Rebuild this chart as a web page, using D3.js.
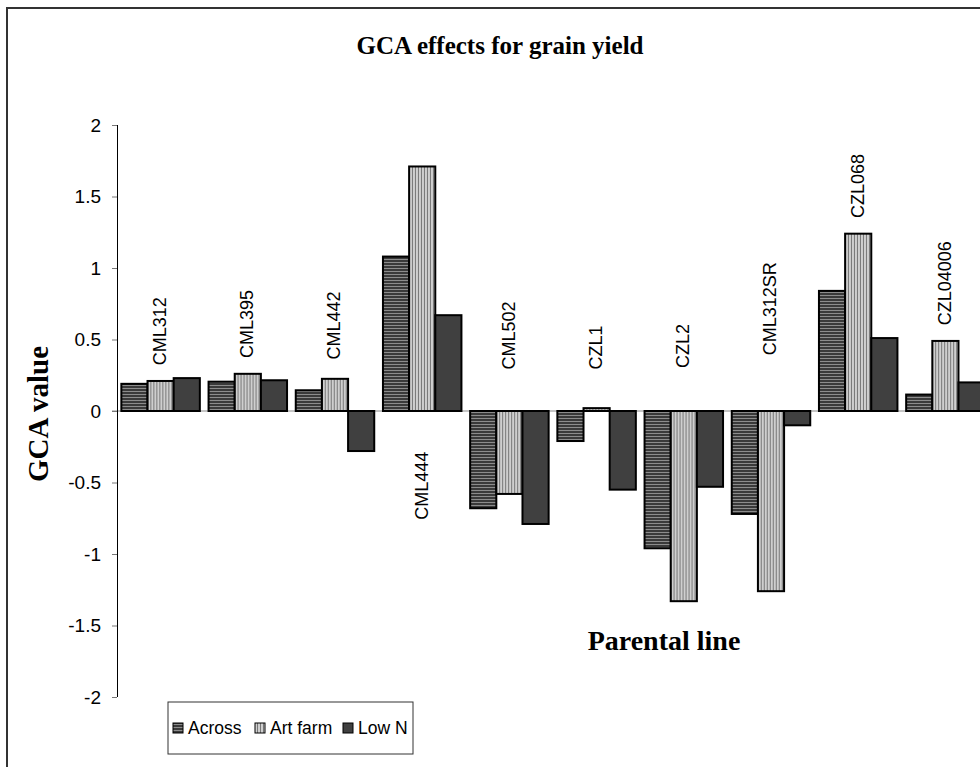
<!DOCTYPE html>
<html>
<head>
<meta charset="utf-8">
<script src="https://cdn.jsdelivr.net/npm/d3@7"></script>
<style>
  body { margin: 0; background: #fff; }
  svg { display: block; }
</style>
</head>
<body>
<div id="chart"></div>
<script>
// GCA effects for grain yield - grouped bars with hatch fills

const lines = ['CML312', 'CML395', 'CML442', 'CML444', 'CML502', 'CZL1', 'CZL2', 'CML312SR', 'CZL068', 'CZL04006'];
const seriesNames = ['Across', 'Art farm', 'Low N'];
const across = [0.19, 0.205, 0.145, 1.08, -0.68, -0.21, -0.96, -0.72, 0.84, 0.115];
const artFarm = [0.21, 0.26, 0.225, 1.71, -0.58, 0.02, -1.33, -1.26, 1.24, 0.49];
const lowN = [0.23, 0.215, -0.28, 0.67, -0.79, -0.55, -0.53, -0.10, 0.51, 0.20];
// where each category label starts, in GCA units
const labelAt = [0.32, 0.37, 0.36, -0.76, 0.29, 0.29, 0.30, 0.39, 1.35, 0.60];
const yTicks = [2, 1.5, 1, 0.5, 0, -0.5, -1, -1.5, -2];

const W = 980, H = 767;
const sans = 'Liberation Sans, Arial, sans-serif';
const serif = 'Liberation Serif, Times New Roman, serif';

const svg = d3.select('#chart').append('svg')
  .attr('width', W).attr('height', H);

const defs = svg.append('defs');
const pAcross = defs.append('pattern').attr('id', 'p-across')
  .attr('patternUnits', 'userSpaceOnUse').attr('width', 4).attr('height', 3);
pAcross.append('rect').attr('width', 4).attr('height', 3).attr('fill', '#3a3a3a');
pAcross.append('rect').attr('y', 1).attr('width', 4).attr('height', 1).attr('fill', '#8c8c8c');

const pArt = defs.append('pattern').attr('id', 'p-art')
  .attr('patternUnits', 'userSpaceOnUse').attr('width', 3).attr('height', 4);
pArt.append('rect').attr('width', 3).attr('height', 4).attr('fill', '#cfcfcf');
pArt.append('rect').attr('x', 2).attr('width', 1).attr('height', 4).attr('fill', '#777');

const fills = ['url(#p-across)', 'url(#p-art)', '#404040'];

// outer frame (runs off right and bottom)
svg.append('rect')
  .attr('x', 7).attr('y', 8).attr('width', W + 20).attr('height', H + 20)
  .attr('fill', 'none').attr('stroke', '#333').attr('stroke-width', 2);

const y = d3.scaleLinear().domain([-2, 2]).range([697, 125]);
const x0 = d3.scaleBand().domain(lines).range([117, 989])
  .paddingInner(0.1).paddingOuter(0.05);
const x1 = d3.scaleBand().domain(seriesNames).range([0, x0.bandwidth()]);

const rows = lines.map((name, i) => ({ name, values: [across[i], artFarm[i], lowN[i]] }));

// zero line
svg.append('line')
  .attr('x1', 112).attr('x2', W).attr('y1', y(0)).attr('y2', y(0))
  .attr('stroke', '#8a8a8a').attr('stroke-width', 1);

// y axis
const yAxis = svg.append('g')
  .attr('transform', 'translate(117,0)')
  .call(d3.axisLeft(y).tickValues(yTicks).tickSize(5).tickPadding(11)
    .tickFormat(d => String(d)));
yAxis.select('.domain').attr('stroke', '#000').attr('d', `M0.5,${y(2)}V${y(-2)}`);
yAxis.selectAll('.tick line').attr('stroke', '#777');
yAxis.selectAll('.tick text')
  .attr('font-family', sans)
  .attr('font-size', 19).attr('fill', '#000');

// bars
const groups = svg.selectAll('.grp').data(rows).enter().append('g')
  .attr('class', 'grp')
  .attr('transform', d => `translate(${x0(d.name)},0)`);

groups.selectAll('rect')
  .data(d => d.values.map((v, k) => ({ v, k })))
  .enter().append('rect')
  .attr('x', d => x1(seriesNames[d.k]))
  .attr('width', x1.bandwidth())
  .attr('y', d => y(Math.max(0, d.v)))
  .attr('height', d => Math.abs(y(d.v) - y(0)))
  .attr('fill', d => fills[d.k])
  .attr('stroke', '#000').attr('stroke-width', 2);

// category labels
svg.selectAll('.cat').data(rows).enter().append('text')
  .attr('class', 'cat')
  .attr('transform', (d, i) => `translate(${x0(d.name) + x0.bandwidth() / 2 - 1},${y(labelAt[i])}) rotate(-90)`)
  .attr('dy', '0.35em')
  .attr('text-anchor', 'start')
  .attr('font-family', sans)
  .attr('font-size', 18)
  .text(d => d.name);

// titles
svg.append('text')
  .attr('x', 500).attr('y', 54).attr('text-anchor', 'middle')
  .attr('font-family', serif)
  .attr('font-weight', 'bold').attr('font-size', 25)
  .text('GCA effects for grain yield');

svg.append('text')
  .attr('transform', `translate(48,${y(0) + 3}) rotate(-90)`)
  .attr('text-anchor', 'middle')
  .attr('font-family', serif)
  .attr('font-weight', 'bold').attr('font-size', 29)
  .text('GCA value');

svg.append('text')
  .attr('x', 664).attr('y', 650).attr('text-anchor', 'middle')
  .attr('font-family', serif)
  .attr('font-weight', 'bold').attr('font-size', 28)
  .text('Parental line');

// legend
const legend = svg.append('g').attr('transform', 'translate(168,702)');
legend.append('rect').attr('width', 245).attr('height', 52)
  .attr('fill', '#fff').attr('stroke', '#333').attr('stroke-width', 1);
const legendX = [5, 87, 175];
seriesNames.forEach((name, k) => {
  const g = legend.append('g').attr('transform', `translate(${legendX[k]},21)`);
  g.append('rect').attr('width', 10).attr('height', 10)
    .attr('fill', fills[k]).attr('stroke', '#000').attr('stroke-width', 1);
  g.append('text').attr('x', 15).attr('y', 5).attr('dy', '0.35em')
    .attr('font-family', sans)
    .attr('font-size', 17.5)
    .text(name);
});
</script>
</body>
</html>
